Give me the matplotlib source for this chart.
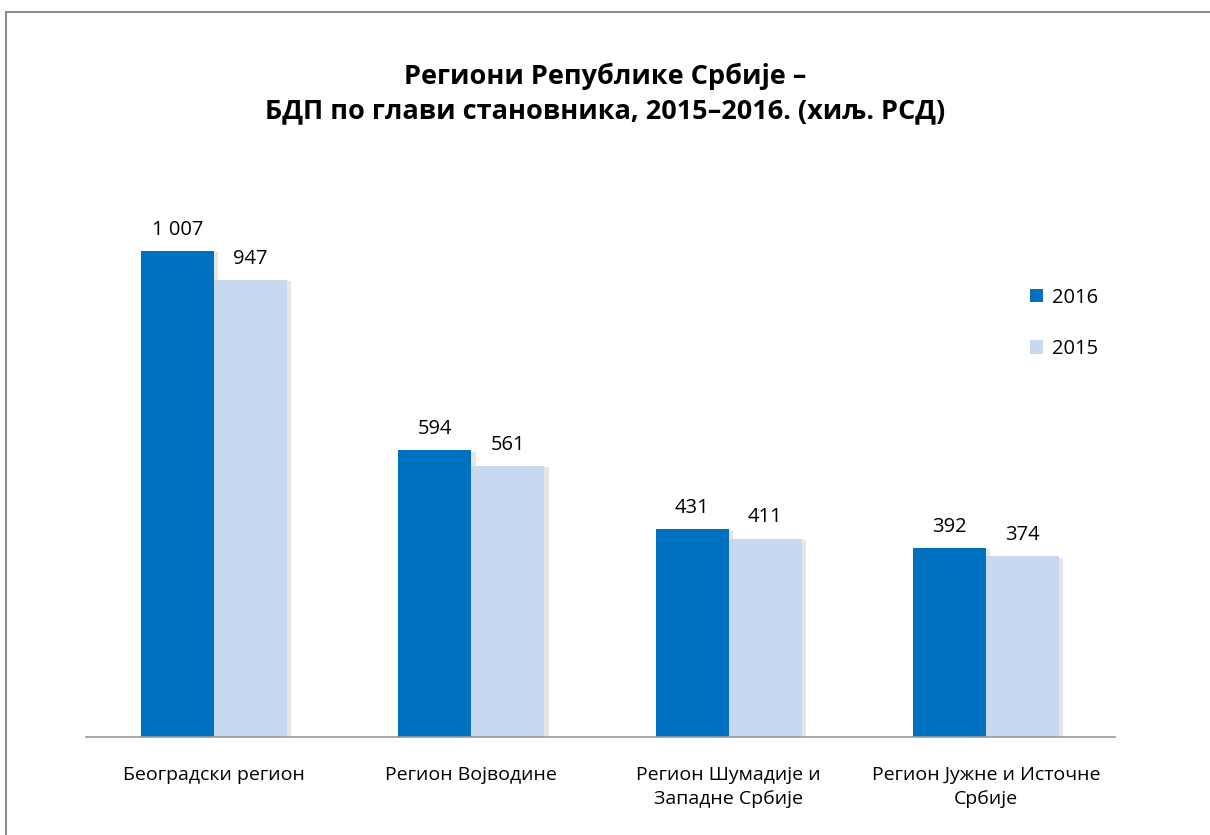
import numpy as np
import matplotlib.pyplot as plt
import matplotlib.patheffects as pe
from matplotlib.patches import Rectangle

plt.rcParams['font.family'] = ['Open Sans', 'DejaVu Sans']

regions = [
    "Београдски регион",
    "Регион Војводине",
    "Регион Шумадије и\nЗападне Србије",
    "Регион Јужне и Источне\nСрбије",
]
gdp_2016 = [1007, 594, 431, 392]
gdp_2015 = [947, 561, 411, 374]

fig = plt.figure(figsize=(12.1, 8.35), dpi=100)
ax = fig.add_axes([0.0707, 0.1174, 0.8504, 0.691])

x = np.arange(len(regions))
w = 0.284
shadow = [pe.SimplePatchShadow(offset=(3, -1), shadow_rgbFace="#aaaaaa", alpha=0.3), pe.Normal()]

b16 = ax.bar(x - w / 2, gdp_2016, w, color="#0070C0", label="2016", path_effects=shadow)
b15 = ax.bar(x + w / 2, gdp_2015, w, color="#C6D9F1", label="2015", path_effects=shadow)

def fmt(v):
    return f"{v:,}".replace(",", " ")

for bars, vals in [(b16, gdp_2016), (b15, gdp_2015)]:
    for b, v in zip(bars, vals):
        ax.annotate(fmt(v), (b.get_x() + b.get_width() / 2, v),
                    xytext=(0, 8), textcoords="offset points",
                    ha="center", va="bottom", fontsize=14.5)

ax.set_xlim(-0.5, len(regions) - 0.5)
ax.set_ylim(0, 1195)
ax.set_xticks(x)
ax.set_xticklabels(regions, fontsize=14, linespacing=1.45)
ax.tick_params(axis="x", length=0, pad=21)
ax.set_yticks([])
for s in ["top", "right", "left"]:
    ax.spines[s].set_visible(False)
ax.spines["bottom"].set_color("#999999")
ax.spines["bottom"].set_linewidth(1.2)

fig.text(0.5, 0.888, "Региони Републике Србије –\nБДП по глави становника, 2015–2016. (хиљ. РСД)",
         ha="center", va="center", fontsize=19.5, fontweight="bold", linespacing=1.4)

leg = ax.legend(loc="upper left", bbox_to_anchor=(0.9, 0.81), frameon=False,
                fontsize=14.5, handlelength=0.65, handleheight=0.65, handletextpad=0.45,
                labelspacing=1.55)
for h in leg.legend_handles:
    h.set_path_effects([])

fig.patches.append(Rectangle((6 / 1210, -0.05), 1.1, (835 - 12) / 835 + 0.05,
                             transform=fig.transFigure, fill=False,
                             edgecolor="#8c8c8c", linewidth=1.5))

fig.savefig("out.png", dpi=100, facecolor="white")
